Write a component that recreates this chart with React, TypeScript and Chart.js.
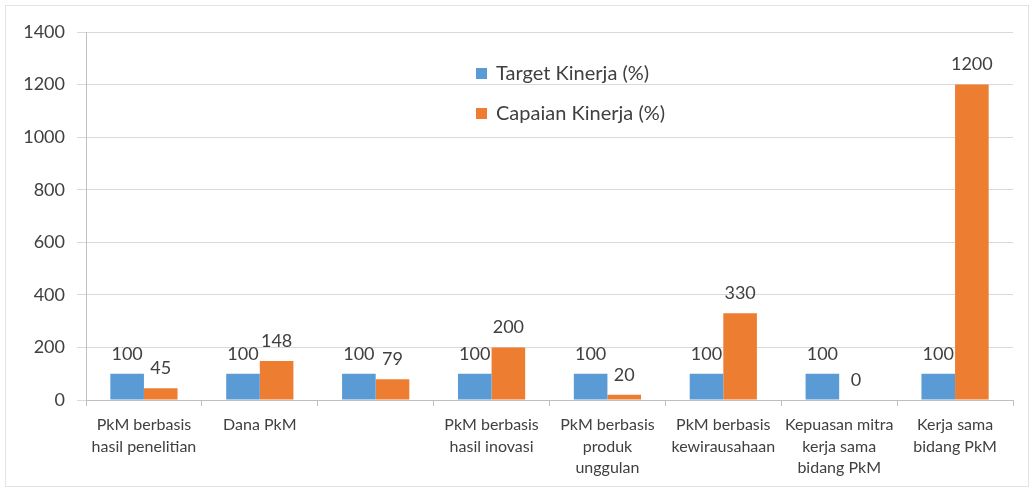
import React, { useEffect, useRef } from "react";
import { Chart, registerables } from "chart.js";

Chart.register(...registerables);

const categories: (string | string[])[] = [
  ["PkM berbasis", "hasil penelitian"],
  ["Dana PkM"],
  [""],
  ["PkM berbasis", "hasil inovasi"],
  ["PkM berbasis", "produk", "unggulan"],
  ["PkM berbasis", "kewirausahaan"],
  ["Kepuasan mitra", "kerja sama", "bidang PkM"],
  ["Kerja sama", "bidang PkM"],
];
const targetValues = [100, 100, 100, 100, 100, 100, 100, 100];
const capaianValues = [45, 148, 79, 200, 20, 330, 0, 1200];
const seriesNames = ["Target Kinerja (%)", "Capaian Kinerja (%)"];
const seriesColors = ["#5B9BD5", "#ED7D31"];
const yTicks = [0, 200, 400, 600, 800, 1000, 1200, 1400];

const FONT = "Lato, 'Open Sans', sans-serif";

const dataLabelPlugin = {
  id: "dataLabels",
  afterDatasetsDraw(chart: any) {
    const ctx = chart.ctx;
    ctx.save();
    ctx.font = `18px ${FONT}`;
    ctx.fillStyle = "#404040";
    ctx.textAlign = "center";
    ctx.textBaseline = "bottom";
    chart.data.datasets.forEach((ds: any, di: number) => {
      const meta = chart.getDatasetMeta(di);
      meta.data.forEach((bar: any, i: number) => {
        ctx.fillText(String(ds.data[i]), bar.x, bar.y - 11);
      });
    });
    ctx.restore();
  },
};

const legendPlugin = {
  id: "customLegend",
  afterDraw(chart: any) {
    const ctx = chart.ctx;
    ctx.save();
    ctx.font = `20px ${FONT}`;
    ctx.textBaseline = "middle";
    ctx.textAlign = "left";
    const x0 = 476;
    const ys = [73, 113];
    chart.data.datasets.forEach((ds: any, di: number) => {
      ctx.fillStyle = ds.backgroundColor;
      ctx.fillRect(x0, ys[di] - 5, 11, 11);
      ctx.fillStyle = "#404040";
      ctx.fillText(ds.label, x0 + 20, ys[di] + 1);
    });
    ctx.restore();
  },
};

export default function App() {
  const ref = useRef<HTMLCanvasElement | null>(null);
  useEffect(() => {
    if (!ref.current) return;
    const chart = new Chart(ref.current, {
      type: "bar",
      data: {
        labels: categories,
        datasets: [
          { label: seriesNames[0], data: targetValues, backgroundColor: seriesColors[0] },
          { label: seriesNames[1], data: capaianValues, backgroundColor: seriesColors[1] },
        ],
      },
      options: {
        animation: false,
        responsive: false,
        maintainAspectRatio: false,
        datasets: { bar: { categoryPercentage: 0.58, barPercentage: 1.0 } },
        layout: { padding: { left: 0, top: 32, right: 22, bottom: 0 } },
        plugins: { legend: { display: false }, tooltip: { enabled: false } },
        scales: {
          x: {
            grid: { display: true, drawOnChartArea: false, color: "#bfbfbf", tickLength: 6, offset: true },
            border: { color: "#bfbfbf" },
            ticks: {
              color: "#404040",
              font: { family: FONT, size: 16, lineHeight: 1.35 },
              padding: 8,
              maxRotation: 0,
              autoSkip: false,
            },
            afterFit(scale: any) {
              scale.height = 91;
            },
          },
          y: {
            min: 0,
            max: 1400,
            afterBuildTicks(scale: any) {
              scale.ticks = yTicks.map((v) => ({ value: v }));
            },
            grid: { color: "#d9d9d9", tickLength: 9 },
            border: { color: "#bfbfbf" },
            ticks: {
              color: "#404040",
              font: { family: FONT, size: 18 },
              padding: 12,
              callback: (v: any) => String(v),
            },
            afterFit(scale: any) {
              scale.width = 86;
            },
          },
        },
      },
      plugins: [dataLabelPlugin, legendPlugin],
    } as any);
    return () => chart.destroy();
  }, []);
  return (
    <div style={{ position: "absolute", left: 0, top: 0, width: 1035, height: 491, background: "#fff" }}>
      <div
        style={{
          position: "absolute",
          left: 5,
          top: 5,
          width: 1024,
          height: 482,
          border: "1px solid #e3e3e3",
          boxSizing: "border-box",
        }}
      />
      <canvas ref={ref} width={1035} height={491} style={{ position: "absolute", left: 0, top: 0 }} />
    </div>
  );
}
